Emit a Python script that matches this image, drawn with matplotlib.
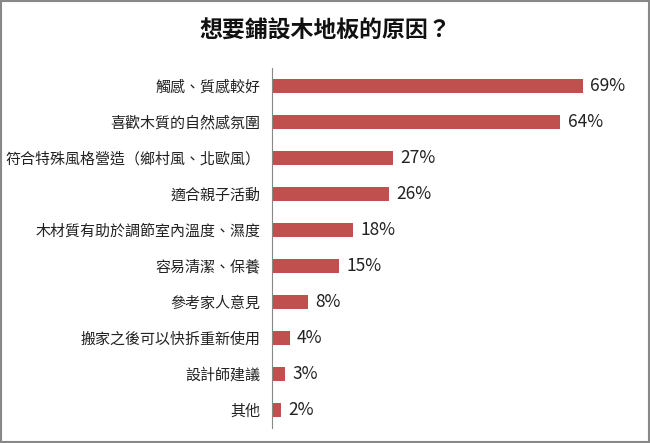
import matplotlib
matplotlib.use("Agg")
import matplotlib.pyplot as plt
from matplotlib.patches import Rectangle

plt.rcParams['font.family'] = ['Noto Sans CJK TC', 'DejaVu Sans']

categories = ["觸感、質感較好", "喜歡木質的自然感氛圍", "符合特殊風格營造（鄉村風、北歐風）",
              "適合親子活動", "木材質有助於調節室內溫度、濕度", "容易清潔、保養",
              "參考家人意見", "搬家之後可以快拆重新使用", "設計師建議", "其他"]
values = [69, 64, 27, 26, 18, 15, 8, 4, 3, 2]
title = "想要鋪設木地板的原因？"

fig = plt.figure(figsize=(6.5, 4.43), dpi=100)
ax = fig.add_axes([0.418, 0.034, 0.555, 0.813])
y = list(range(len(categories)))
ax.barh(y, values, height=0.4, color="#C0504D")
ax.set_ylim(len(categories) - 0.5, -0.5)
ax.set_xlim(0, 80)
ax.set_yticks(y)
ax.set_yticklabels(categories, fontsize=10.8, color="#222222")
ax.tick_params(axis='y', length=0, pad=8)
ax.set_xticks([])
for s in ["top", "right", "bottom"]:
    ax.spines[s].set_visible(False)
ax.spines["left"].set_color("#888888")
for yi, v in zip(y, values):
    ax.text(v + 1.6, yi, f"{v}%", va="center", ha="left", fontsize=12.5, color="#222222")

fig.text(0.5, 0.93, title, ha="center", va="center", fontsize=16.5, fontweight="bold", color="#111111")
fig.patches.append(Rectangle((0.002, 0.003), 0.996, 0.994, transform=fig.transFigure,
                             fill=False, edgecolor="#888888", linewidth=1.5))
fig.savefig("out.png", dpi=100)
